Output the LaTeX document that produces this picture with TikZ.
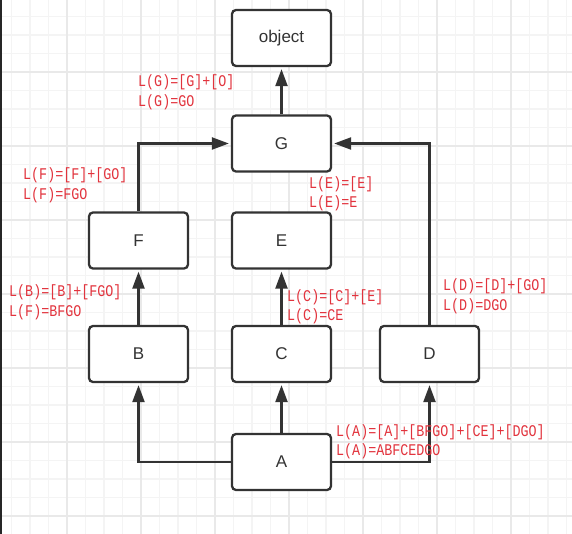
\documentclass[tikz,border=0pt]{standalone}
\usepackage{fontspec}
\setmainfont{Liberation Sans}
\newfontfamily\labelfont[FakeStretch=0.82]{Liberation Mono}
\usetikzlibrary{arrows.meta}
\definecolor{boxline}{HTML}{333333}
\definecolor{labelred}{HTML}{E2333D}
\definecolor{gridminor}{HTML}{F4F4F4}
\definecolor{gridmajor}{HTML}{E9E9E9}
\begin{document}
\begin{tikzpicture}[x=1pt,y=-1pt,
  box/.style={draw=boxline, line width=2.3pt, rounded corners=4pt, fill=white,
    minimum width=99pt, minimum height=56pt, inner sep=0pt,
    font=\fontsize{17}{20}\selectfont, text=boxline},
  conn/.style={draw=boxline, line width=2.3pt, -{Triangle[length=17pt,width=12pt]}, shorten >=2pt},
  lbl/.style={anchor=base west, inner sep=0pt, text=labelred, font=\labelfont\fontsize{16.3}{18}\selectfont}]
\useasboundingbox (0,0) rectangle (572,534);
\fill[white] (0,0) rectangle (572,534);
\begin{scope}
\clip (0,0) rectangle (572,534);
\foreach \k in {0,...,33} {
  \draw[gridminor, line width=1.3pt] ({-7+18.5*\k},0) -- ({-7+18.5*\k},534);
  \draw[gridminor, line width=1.3pt] (0,{-2+18.5*\k}) -- (572,{-2+18.5*\k});
}
\foreach \k in {0,...,8} {
  \draw[gridmajor, line width=1.3pt] ({-7+74*\k},0) -- ({-7+74*\k},534);
  \draw[gridmajor, line width=1.3pt] (0,{-2+74*\k}) -- (572,{-2+74*\k});
}
\end{scope}
\fill[black!85] (0,0) rectangle (2,534);

\node[box] (obj) at (281.5,38) {object};
\node[box] (G) at (281.5,143.5) {G};
\node[box] (F) at (138.5,240.5) {F};
\node[box] (E) at (281.5,240.5) {E};
\node[box] (B) at (138.5,354) {B};
\node[box] (C) at (281.5,354) {C};
\node[box] (D) at (429.5,354) {D};
\node[box] (A) at (281.5,462) {A};

\draw[conn] (G) -- (obj);
\draw[conn] (F.north) |- (G.west);
\draw[conn] (D.north) |- (G.east);
\draw[conn] (B) -- (F);
\draw[conn] (C) -- (E);
\draw[conn] (A.west) -| (B.south);
\draw[conn] (A) -- (C);
\draw[conn] (A.east) -| (D.south);

\node[lbl] (lg1) at (138,86.5) {L(G)=[G]+[O]};
\node[lbl] (lg2) at (138,107) {L(G)=GO};
\node[lbl] (lf1) at (23,179.5) {L(F)=[F]+[GO]};
\node[lbl] (lf2) at (23,199.5) {L(F)=FGO};
\node[lbl] (lb1) at (9,296.5) {L(B)=[B]+[FGO]};
\node[lbl] (lb2) at (9,316.5) {L(F)=BFGO};
\node[lbl] (le1) at (309,188.5) {L(E)=[E]};
\node[lbl] (le2) at (309,208) {L(E)=E};
\node[lbl] (lc1) at (287,301.5) {L(C)=[C]+[E]};
\node[lbl] (lc2) at (287,320.5) {L(C)=CE};
\node[lbl] (ld1) at (443,290.5) {L(D)=[D]+[GO]};
\node[lbl] (ld2) at (443,310.5) {L(D)=DGO};
\node[lbl] (la1) at (336,436.5) {L(A)=[A]+[BFGO]+[CE]+[DGO]};
\node[lbl] (la2) at (336,455.5) {L(A)=ABFCEDGO};
\end{tikzpicture}
\end{document}
